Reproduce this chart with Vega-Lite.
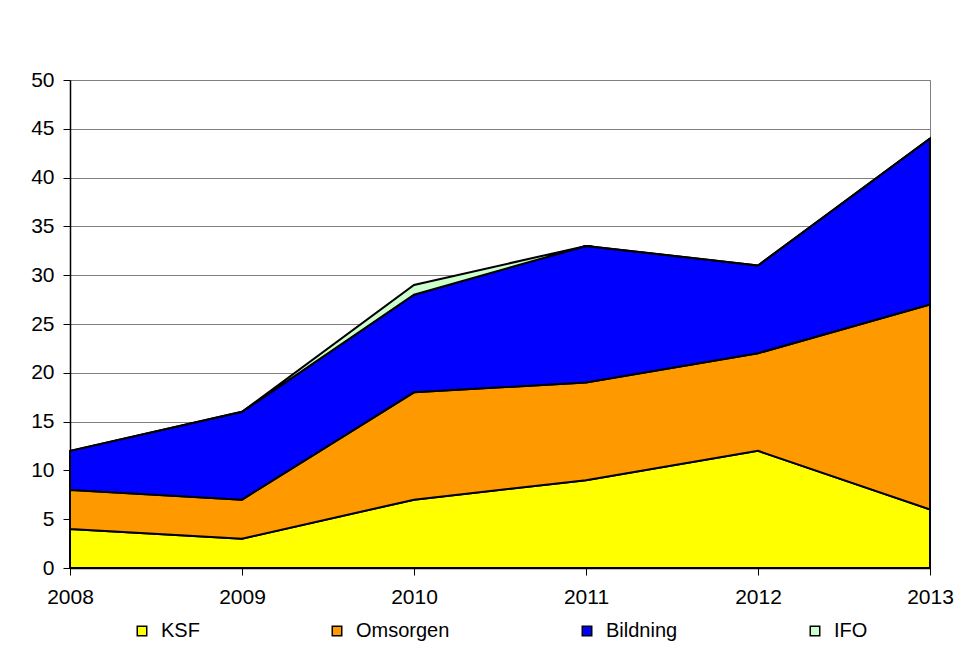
{
  "$schema": "https://vega.github.io/schema/vega-lite/v6.json",
  "width": 860,
  "height": 488,
  "autosize": {"type": "none"},
  "padding": {"left": 70, "top": 80, "right": 42, "bottom": 77},
  "background": "white",
  "config": {
    "font": "Liberation Sans",
    "view": {"stroke": "#808080", "strokeWidth": 1}
  },
  "data": {
    "values": [
      {"year": 2008, "serie": "KSF", "idx": 1, "value": 4},
      {"year": 2009, "serie": "KSF", "idx": 1, "value": 3},
      {"year": 2010, "serie": "KSF", "idx": 1, "value": 7},
      {"year": 2011, "serie": "KSF", "idx": 1, "value": 9},
      {"year": 2012, "serie": "KSF", "idx": 1, "value": 12},
      {"year": 2013, "serie": "KSF", "idx": 1, "value": 6},
      {"year": 2008, "serie": "Omsorgen", "idx": 2, "value": 4},
      {"year": 2009, "serie": "Omsorgen", "idx": 2, "value": 4},
      {"year": 2010, "serie": "Omsorgen", "idx": 2, "value": 11},
      {"year": 2011, "serie": "Omsorgen", "idx": 2, "value": 10},
      {"year": 2012, "serie": "Omsorgen", "idx": 2, "value": 10},
      {"year": 2013, "serie": "Omsorgen", "idx": 2, "value": 21},
      {"year": 2008, "serie": "Bildning", "idx": 3, "value": 4},
      {"year": 2009, "serie": "Bildning", "idx": 3, "value": 9},
      {"year": 2010, "serie": "Bildning", "idx": 3, "value": 10},
      {"year": 2011, "serie": "Bildning", "idx": 3, "value": 14},
      {"year": 2012, "serie": "Bildning", "idx": 3, "value": 9},
      {"year": 2013, "serie": "Bildning", "idx": 3, "value": 17},
      {"year": 2008, "serie": "IFO", "idx": 4, "value": 0},
      {"year": 2009, "serie": "IFO", "idx": 4, "value": 0},
      {"year": 2010, "serie": "IFO", "idx": 4, "value": 1},
      {"year": 2011, "serie": "IFO", "idx": 4, "value": 0},
      {"year": 2012, "serie": "IFO", "idx": 4, "value": 0},
      {"year": 2013, "serie": "IFO", "idx": 4, "value": 0}
    ]
  },
  "mark": {"type": "area", "stroke": "black", "strokeWidth": 2, "strokeJoin": "miter", "opacity": 1},
  "encoding": {
    "x": {
      "field": "year",
      "type": "quantitative",
      "scale": {"domain": [2008, 2013], "nice": false, "zero": false},
      "axis": {
        "title": null,
        "values": [2008, 2009, 2010, 2011, 2012, 2013],
        "format": "d",
        "grid": false,
        "domainColor": "black",
        "domainWidth": 1.5,
        "tickColor": "black",
        "tickSize": 7,
        "labelFontSize": 21,
        "labelColor": "black",
        "labelPadding": 11,
        "labelFlush": false
      }
    },
    "y": {
      "field": "value",
      "type": "quantitative",
      "stack": "zero",
      "scale": {"domain": [0, 50], "nice": false},
      "axis": {
        "title": null,
        "values": [0, 5, 10, 15, 20, 25, 30, 35, 40, 45, 50],
        "grid": true,
        "gridColor": "#808080",
        "gridOpacity": 1,
        "gridWidth": 1,
        "domainColor": "black",
        "domainWidth": 1.5,
        "tickColor": "black",
        "tickSize": 7,
        "labelFontSize": 21,
        "labelColor": "black",
        "labelPadding": 9
      }
    },
    "color": {
      "field": "serie",
      "type": "nominal",
      "scale": {
        "domain": ["KSF", "Omsorgen", "Bildning", "IFO"],
        "range": ["#FFFF00", "#FF9900", "#0000FF", "#CCFFCC"]
      },
      "legend": {
        "title": null,
        "orient": "none",
        "legendX": 62,
        "legendY": 541,
        "padding": 0,
        "direction": "horizontal",
        "columns": 4,
        "columnPadding": 127,
        "gridAlign": "each",
        "symbolType": "square",
        "symbolSize": 90,
        "symbolStrokeColor": "black",
        "symbolStrokeWidth": 1.5,
        "symbolOpacity": 1,
        "labelFontSize": 20,
        "labelColor": "black",
        "labelOffset": 9
      }
    },
    "order": {"field": "idx", "type": "quantitative"}
  }
}
